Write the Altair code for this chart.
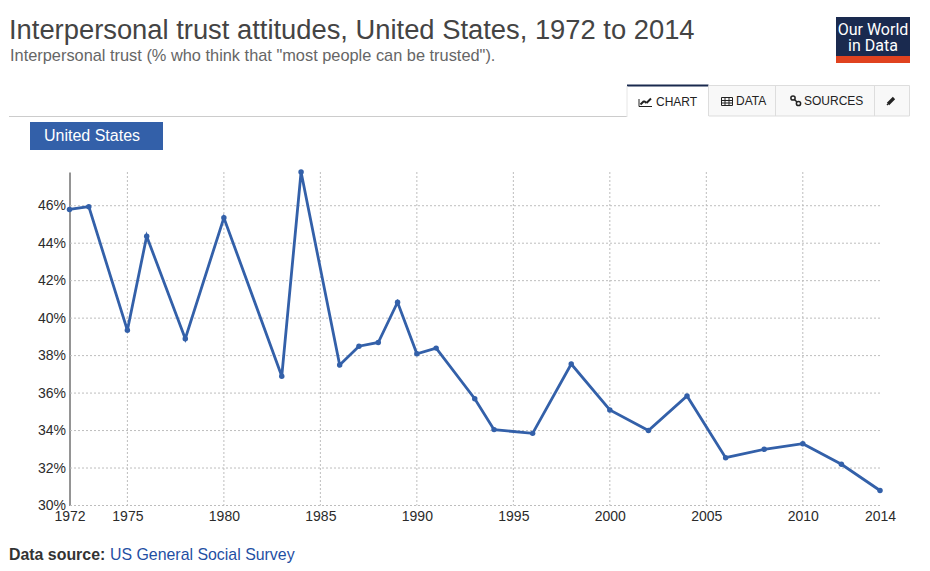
import altair as alt
import pandas as pd

years = [1972,1973,1975,1976,1978,1980,1983,1984,1986,1987,1988,1989,1990,1991,1993,1994,1996,1998,2000,2002,2004,2006,2008,2010,2012,2014]
trust = [45.8,45.95,39.35,44.37,38.9,45.36,36.9,47.8,37.5,38.5,38.7,40.85,38.1,38.4,35.7,34.05,33.85,37.55,35.1,34.0,35.85,32.55,33.0,33.3,32.2,30.8]
x_ticks = [1972,1975,1980,1985,1990,1995,2000,2005,2010,2014]
grid_years = [1975,1980,1985,1990,1995,2000,2005,2010]
y_ticks = [30,32,34,36,38,40,42,44,46]

PL, PT = 69.5, 172.0   # page position of the plot area
W, H = 810.5, 333.5
BLUE = "#3360a9"
FONT = "Liberation Sans"

df = pd.DataFrame({"year": years, "trust": trust})
xs = alt.Scale(domain=[1972, 2014], nice=False, zero=False)
ys = alt.Scale(domain=[30, 47.8], nice=False, zero=False)

x_axis = alt.Axis(
    values=x_ticks, format="d", title=None, grid=False, ticks=False, domain=False,
    labelFont=FONT, labelFontSize=14, labelColor="#2b2b2b", labelPadding=4,
    labelOverlap=False, labelFlush=False)
y_axis = alt.Axis(
    values=y_ticks, labelExpr="datum.value + '%'", title=None, grid=False, ticks=False,
    domain=True, domainColor="#2b2b2b", domainWidth=1,
    labelFont=FONT, labelFontSize=14, labelColor="#2b2b2b", labelPadding=4)

grid_x = alt.Chart(pd.DataFrame({"year": grid_years})).mark_rule(
    color="#bdbdbd", strokeDash=[2, 2], strokeWidth=1
).encode(x=alt.X("year:Q", scale=xs, axis=x_axis))
grid_y = alt.Chart(pd.DataFrame({"trust": y_ticks})).mark_rule(
    color="#bdbdbd", strokeDash=[2, 2], strokeWidth=1
).encode(y=alt.Y("trust:Q", scale=ys, axis=y_axis))

base = alt.Chart(df).encode(
    x=alt.X("year:Q", scale=xs, axis=x_axis),
    y=alt.Y("trust:Q", scale=ys, axis=y_axis),
)
line = base.mark_line(color=BLUE, strokeWidth=2.8)
pts = base.mark_point(color=BLUE, filled=True, size=30, opacity=1)


def rect(x0, y0, x1, y1, fill, stroke=None):
    kw = {"fill": fill}
    if stroke:
        kw.update(stroke=stroke, strokeWidth=1)
    return alt.Chart(pd.DataFrame({"a": [0]})).mark_rect(**kw).encode(
        x=alt.value(x0 - PL), x2=alt.value(x1 - PL), y=alt.value(y0 - PT), y2=alt.value(y1 - PT))


def seg(x0, y0, x1, y1, color, w=1.0):
    return alt.Chart(pd.DataFrame({"a": [0]})).mark_rule(color=color, strokeWidth=w).encode(
        x=alt.value(x0 - PL), x2=alt.value(x1 - PL), y=alt.value(y0 - PT), y2=alt.value(y1 - PT))


def ring(x, y, size):
    return alt.Chart(pd.DataFrame({"a": [0]})).mark_point(
        shape="circle", filled=False, color="#222222", strokeWidth=1.5, size=size, opacity=1
    ).encode(x=alt.value(x - PL), y=alt.value(y - PT))


def text(s, x, y, size, color, weight="normal", align="left", font=FONT):
    return alt.Chart(pd.DataFrame({"t": [s]})).mark_text(
        align=align, baseline="alphabetic", fontSize=size, color=color, fontWeight=weight, font=font
    ).encode(x=alt.value(x - PL), y=alt.value(y - PT), text="t:N")


chrome = [
    text("Interpersonal trust attitudes, United States, 1972 to 2014", 9, 39, 27.35, "#444444"),
    text('Interpersonal trust (% who think that "most people can be trusted").', 10, 61, 16.37, "#666666"),
    # logo
    rect(836, 17, 910, 56, "#1a2a4f"),
    rect(836, 56, 910, 63, "#e0421f"),
    text("Our World", 873, 35, 16, "#ffffff", align="center", font="Roboto"),
    text("in Data", 873, 51, 16, "#ffffff", align="center", font="Roboto"),
    # tabs
    seg(9, 116.5, 627, 116.5, "#cccccc"),
    rect(708.5, 85.5, 909.5, 116, "#f8f8f8", "#dddddd"),
    seg(775.5, 85.5, 775.5, 116, "#dddddd"),
    seg(874.5, 85.5, 874.5, 116, "#dddddd"),
    rect(627, 85, 708.5, 117, "#ffffff"),
    seg(627, 85.5, 708.5, 85.5, "#1a2a4f", 2),
    seg(708.5, 85.5, 708.5, 116, "#dddddd"),
    seg(627, 86, 627, 117, "#e6e6e6"),
    text("CHART", 656, 106, 12, "#222222"),
    text("DATA", 736, 105, 12, "#222222"),
    text("SOURCES", 804, 105, 12, "#222222"),
    # chart icon
    seg(639, 99, 639, 106.5, "#222222", 1),
    seg(639, 106.5, 652, 106.5, "#222222", 1),
    seg(640.5, 104.5, 644, 101, "#222222", 2),
    seg(644, 101, 646.5, 103, "#222222", 2),
    seg(646.5, 103, 651, 98.5, "#222222", 2),
    # table icon
    rect(721.5, 97.5, 732.5, 105.5, "#f8f8f8", "#222222"),
    seg(721.5, 100.5, 732.5, 100.5, "#222222"),
    seg(721.5, 103, 732.5, 103, "#222222"),
    seg(725, 97.5, 725, 105.5, "#222222"),
    seg(729, 97.5, 729, 105.5, "#222222"),
    # link icon
    ring(793, 98, 18),
    ring(798.5, 103.5, 18),
    seg(794.5, 99.5, 797, 102, "#222222", 1.5),
    # pencil icon
    seg(887, 105, 888, 104, "#222222", 1.5),
    seg(888, 104, 894, 98, "#222222", 3.2),
    # legend
    rect(30, 122, 163, 150, BLUE),
    text("United States", 44, 141, 16, "#ffffff"),
    # source
    text("Data source:", 9, 560, 15.9, "#333333", "bold"),
    text("US General Social Survey", 110, 560, 15.9, "#1f4fa3"),
]

chart = alt.layer(grid_x, grid_y, *chrome, line, pts).properties(
    width=W, height=H,
    padding={"left": PL - 8, "top": PT - 8, "right": 35, "bottom": 60},
    autosize=alt.AutoSizeParams(type="none"),
).configure_view(stroke=None)

chart.save("out.html", embed_options={"renderer": "svg", "actions": False})
